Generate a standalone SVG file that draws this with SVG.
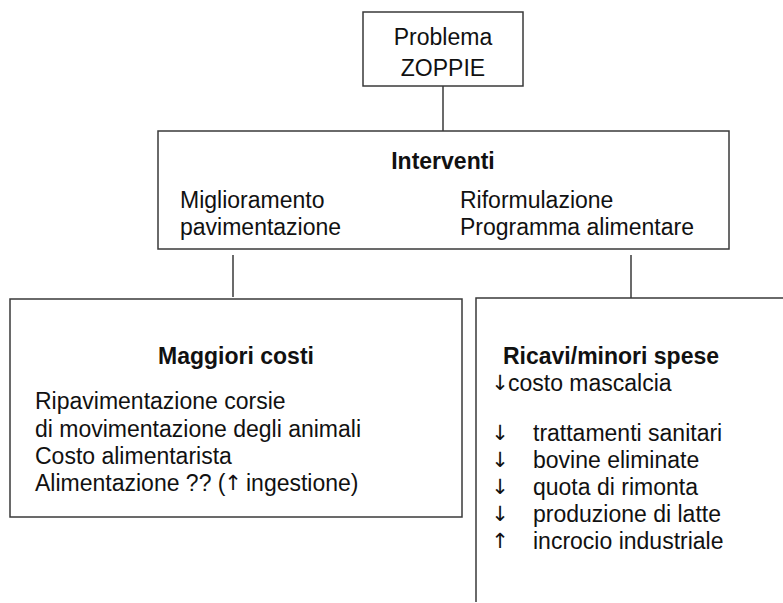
<svg xmlns="http://www.w3.org/2000/svg" width="783" height="603" viewBox="0 0 783 603">
<style>
.box{fill:none;stroke:#3a3a3a;stroke-width:1.5}
.con{fill:none;stroke:#3a3a3a;stroke-width:1.5}
text{font-family:"Liberation Sans",Arial,"DejaVu Sans",sans-serif;font-size:23px;fill:#111}
.b{font-weight:bold}
.m{text-anchor:middle}
.ar{font-family:"DejaVu Sans",sans-serif;font-size:21px;text-anchor:middle}
</style>
<rect width="783" height="603" fill="#fff"/>
<g id="connectors">
<line class="con" x1="443" y1="86" x2="443" y2="131"/>
<line class="con" x1="233" y1="255" x2="233" y2="297"/>
<line class="con" x1="631" y1="255" x2="631" y2="298"/>
</g>
<g id="problema">
<rect class="box" x="363" y="12" width="160" height="74"/>
<text class="m" x="443" y="45">Problema</text>
<text class="m" x="443" y="76">ZOPPIE</text>
</g>
<g id="interventi">
<rect class="box" x="158" y="131" width="571" height="118"/>
<text class="m b" x="443" y="169">Interventi</text>
<text x="180" y="208">Miglioramento</text>
<text x="180" y="235">pavimentazione</text>
<text x="460" y="208">Riformulazione</text>
<text x="460" y="235">Programma alimentare</text>
</g>
<g id="maggiori-costi">
<rect class="box" x="10" y="299" width="452" height="218"/>
<text class="m b" x="236" y="364">Maggiori costi</text>
<text x="35" y="409">Ripavimentazione corsie</text>
<text x="35" y="437">di movimentazione degli animali</text>
<text x="35" y="464">Costo alimentarista</text>
<text x="35" y="491">Alimentazione ?? (</text>
<text class="ar" x="233" y="490">↑</text>
<text x="246" y="491">ingestione)</text>
</g>
<g id="ricavi">
<path class="box" d="M783,298 H476 V602"/>
<text class="b" x="503" y="364">Ricavi/minori spese</text>
<text class="ar" x="500" y="390">↓</text><text x="508" y="391">costo mascalcia</text>
<text class="ar" x="500" y="440">↓</text><text x="533" y="441">trattamenti sanitari</text>
<text class="ar" x="500" y="467">↓</text><text x="533" y="468">bovine eliminate</text>
<text class="ar" x="500" y="494">↓</text><text x="533" y="495">quota di rimonta</text>
<text class="ar" x="500" y="521">↓</text><text x="533" y="522">produzione di latte</text>
<text class="ar" x="500" y="548">↑</text><text x="533" y="549">incrocio industriale</text>
</g>
</svg>
